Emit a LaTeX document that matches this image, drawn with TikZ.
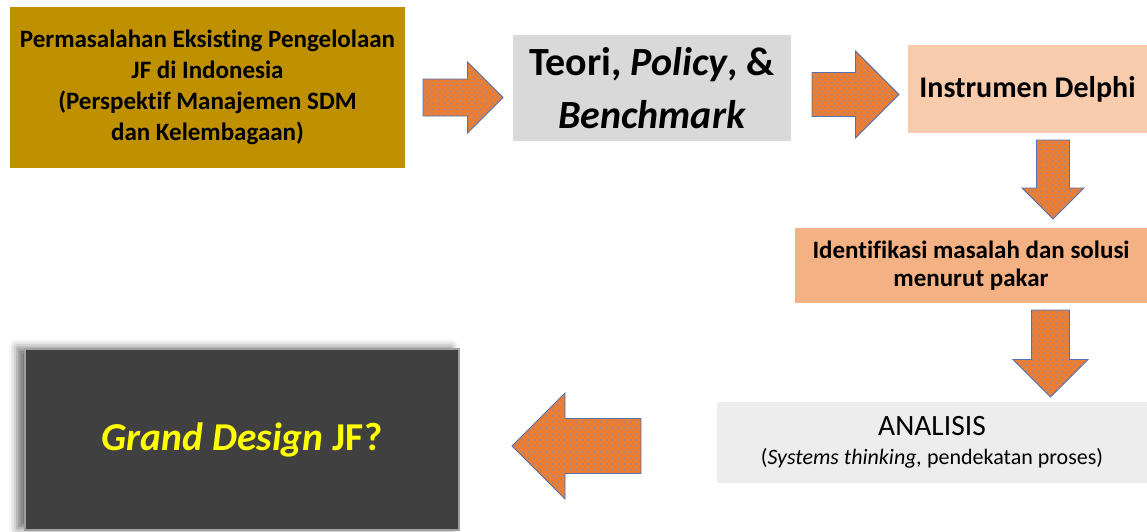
\documentclass[tikz,border=0pt]{standalone}
\usepackage{fontspec}
\setmainfont{Carlito}[Ligatures=NoCommon]
\usetikzlibrary{shadows.blur}

\definecolor{goldbox}{HTML}{BF9000}
\definecolor{greybox}{HTML}{D9D9D9}
\definecolor{peachbox}{HTML}{F8CBAD}
\definecolor{salmonbox}{HTML}{F4B183}
\definecolor{palebox}{HTML}{EDEDED}
\definecolor{darkbox}{HTML}{404040}
\definecolor{arroworange}{HTML}{ED7D31}
\definecolor{arrowedge}{HTML}{5470B0}
\definecolor{dotgrey}{HTML}{A08890}
\definecolor{titleyellow}{HTML}{FFFF00}

% block arrow: name, centre, angle, length, head width, shaft width
% filled orange, sprinkled with a grid of small dots, outlined in blue
\newcommand{\fatarrow}[6]{%
  \coordinate (#1) at (#2);
  \pgfmathsetmacro{\arrL}{#4/2}%
  \pgfmathsetmacro{\arrW}{#5/2}%
  \pgfmathsetmacro{\arrS}{#6/2}%
  \pgfmathsetmacro{\arrB}{#4/2-#5/2}%
  \def\arrOutline{(-\arrL,-\arrS) -- (\arrB,-\arrS) -- (\arrB,-\arrW) -- (\arrL,0)
    -- (\arrB,\arrW) -- (\arrB,\arrS) -- (-\arrL,\arrS) -- cycle}%
  \begin{scope}[shift={(#1)},rotate=#3]
    \fill[arroworange] \arrOutline;
    \begin{scope}
      \clip \arrOutline;
      \foreach \dx in {-66,-60,...,66} {
        \foreach \dy in {-54,-48,...,54} {
          \fill[dotgrey] (\dx,\dy) circle (1.2pt);
          \fill[dotgrey] (\dx+3,\dy+3) circle (0.8pt);
        }
      }
    \end{scope}
    \draw[arrowedge, line width=0.9pt, line join=miter] \arrOutline;
  \end{scope}
}

\begin{document}
\begin{tikzpicture}[x=1pt,y=-1pt,
  box/.style={inner sep=0pt, align=center, text=black},
]
\useasboundingbox (0,0) rectangle (1147,531);

% process boxes
\node[box, fill=goldbox, minimum width=395pt, minimum height=161pt,
      font=\bfseries\fontsize{25}{31}\selectfont] (problem) at (207.5,87)
  {Permasalahan Eksisting Pengelolaan\\JF di Indonesia\\(Perspektif Manajemen SDM\\dan Kelembagaan)};

\node[box, fill=greybox, minimum width=278pt, minimum height=106pt,
      font=\bfseries\fontsize{40}{53}\selectfont] (theory) at (652,88)
  {Teori, \textit{Policy}, \&\\\textit{Benchmark}};

\node[box, fill=peachbox, minimum width=239pt, minimum height=88pt,
      font=\bfseries\fontsize{30}{34}\selectfont] (delphi) at (1027.5,89)
  {Instrumen Delphi};

\node[box, fill=salmonbox, minimum width=352pt, minimum height=75pt,
      font=\bfseries\fontsize{25}{28}\selectfont] (expert) at (971,265.5)
  {Identifikasi masalah dan solusi\\menurut pakar};

\node[box, fill=palebox, minimum width=430pt, minimum height=81pt,
      font=\fontsize{22}{29}\selectfont] (analysis) at (932,442.5)
  {{\fontsize{29.5}{31}\selectfont ANALISIS}\\(\textit{Systems thinking,} pendekatan proses)};

\node[box, fill=darkbox, draw=gray!75, line width=1.2pt,
      minimum width=434pt, minimum height=181pt,
      blur shadow={shadow xshift=-8pt, shadow yshift=1.5pt,
                   shadow blur radius=8pt, shadow opacity=55},
      text=titleyellow, font=\bfseries\fontsize{39.5}{46}\selectfont] (design) at (242,439.5)
  {\textit{Grand Design} JF?};

% flow arrows between the boxes
\fatarrow{problem-theory}{463,97.5}{0}{80}{71}{37}
\fatarrow{theory-delphi}{855.5,94.5}{0}{87}{87}{44}
\fatarrow{delphi-expert}{1053,179.5}{-90}{79}{62}{33}
\fatarrow{expert-analysis}{1050.5,353.5}{-90}{87}{75}{38}
\fatarrow{analysis-design}{576.5,446}{180}{129}{106}{55}
\end{tikzpicture}
\end{document}
